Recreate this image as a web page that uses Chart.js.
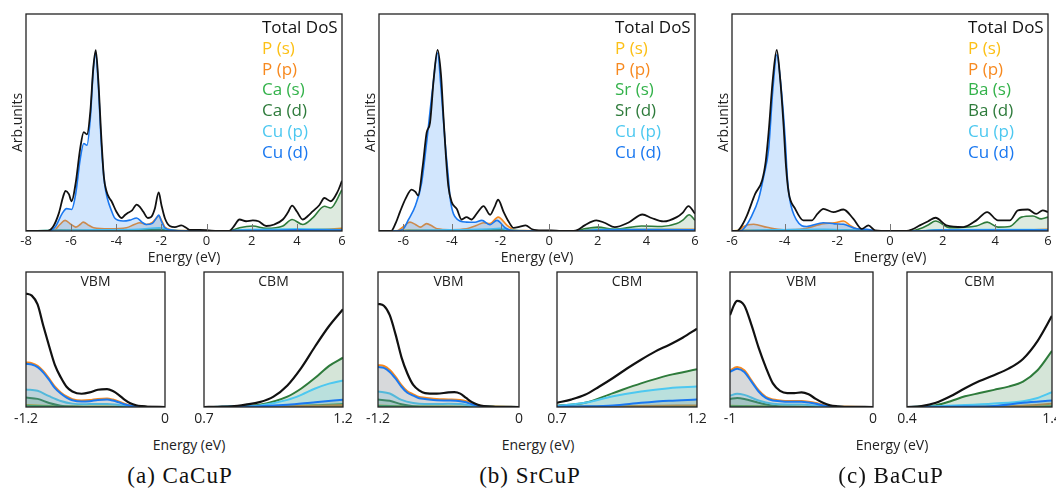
<!DOCTYPE html>
<html>
<head>
<meta charset="utf-8">
<script src="https://cdn.jsdelivr.net/npm/chart.js@4/dist/chart.umd.min.js"></script>
<style>
  html, body { margin: 0; padding: 0; background: #fff; }
  body { position: relative; width: 1056px; height: 488px; overflow: hidden; }
  canvas { position: absolute; }
  .lbl { position: absolute; transform: translate(-50%, -50%); white-space: nowrap; color: #222; }
  .axis { font: 14px "Open Sans", sans-serif; }
  .cap { font: 23px "Liberation Serif", serif; letter-spacing: 1px; color: #111; }
</style>
</head>
<body>
<canvas id="topA"></canvas>
<canvas id="topB"></canvas>
<canvas id="topC"></canvas>
<canvas id="vbmA"></canvas>
<canvas id="cbmA"></canvas>
<canvas id="vbmB"></canvas>
<canvas id="cbmB"></canvas>
<canvas id="vbmC"></canvas>
<canvas id="cbmC"></canvas>
<div class="lbl axis" style="left:189px;top:444px">Energy (eV)</div>
<div class="lbl axis" style="left:538px;top:444px">Energy (eV)</div>
<div class="lbl axis" style="left:892px;top:444px">Energy (eV)</div>
<div class="lbl cap" style="left:180px;top:476px">(a) CaCuP</div>
<div class="lbl cap" style="left:530px;top:476px">(b) SrCuP</div>
<div class="lbl cap" style="left:891px;top:476px">(c) BaCuP</div>
<script>
// legend labels, same order for every panel
const LABELS_CA = ['Total DoS', 'P (s)', 'P (p)', 'Ca (s)', 'Ca (d)', 'Cu (p)', 'Cu (d)'];
const LABELS_SR = ['Total DoS', 'P (s)', 'P (p)', 'Sr (s)', 'Sr (d)', 'Cu (p)', 'Cu (d)'];
const LABELS_BA = ['Total DoS', 'P (s)', 'P (p)', 'Ba (s)', 'Ba (d)', 'Cu (p)', 'Cu (d)'];

// axis ranges and tick labels (eV)
const RANGE_A = [-8, 6];
const RANGE_B = [-7, 6];
const RANGE_C = [-6, 6];
const TICKS_A = [-8, -6, -4, -2, 0, 2, 4, 6];
const TICKS_B = [-6, -4, -2, 0, 2, 4, 6];
const TICKS_C = [-6, -4, -2, 0, 2, 4, 6];
const VBM_RANGE_A = [-1.2, 0], CBM_RANGE_A = [0.7, 1.2];
const VBM_RANGE_B = [-1.2, 0], CBM_RANGE_B = [0.7, 1.2];
const VBM_RANGE_C = [-1, 0], CBM_RANGE_C = [0.4, 1.4];

// ---- CaCuP full DoS, [energy, DoS] (arb. units, 0-100)
const CA_TOTAL = [[-8,0],[-7.1,0],[-6.8,2],[-6.55,8],[-6.35,16],[-6.25,18.5],[-6.1,17],[-5.98,13.7],[-5.8,22],[-5.6,38],[-5.44,45.6],[-5.3,44.5],[-5.15,55],[-5.02,75],[-4.91,83.3],[-4.8,70],[-4.66,42.5],[-4.55,25],[-4.43,18.2],[-4.3,15],[-4.21,13.7],[-4.0,9],[-3.77,6],[-3.6,7.5],[-3.48,8.4],[-3.3,9.5],[-3.1,12.2],[-2.95,11],[-2.81,9],[-2.6,6],[-2.45,6.5],[-2.3,10],[-2.12,17.8],[-2.0,12],[-1.85,6],[-1.63,2.3],[-1.4,1.8],[-1.12,2.6],[-0.9,1.5],[-0.75,0.5],[-0.3,0.5],[0,0.4],[0.5,0],[1.0,0],[1.2,2],[1.46,5.3],[1.75,4.5],[2.05,4.9],[2.3,4.5],[2.64,2.3],[3.0,3],[3.38,5.3],[3.6,8.5],[3.79,11.7],[4.0,9],[4.26,5.3],[4.5,7],[4.7,9],[5.0,12],[5.22,15.2],[5.5,13.7],[5.8,18],[6.0,23.1]];
const CA_PS = [[-8,0],[-7,0],[-6.5,0.4],[-5,0.3],[-2,0.3],[-1,0],[0,0],[6,0.2]];
const CA_PP = [[-8,0],[-6.8,0],[-6.5,3],[-6.27,4.9],[-6.0,3],[-5.8,1.8],[-5.6,3],[-5.47,4.1],[-5.2,2.5],[-5.0,1.5],[-4.3,1],[-3.55,1.5],[-3.2,3],[-2.96,3.8],[-2.67,3],[-2.4,4],[-2.12,6.8],[-1.95,4],[-1.85,1.8],[-1.5,0.5],[-1,0.2],[0,0],[1,0],[1.5,0.5],[3,0.6],[5,0.8],[6,1.2]];
const CA_AS = [[-8,0],[-4,0],[-3,0.3],[-2,0.5],[-1,0],[1,0],[2,0.5],[4,0.4],[6,0.5]];
const CA_AD = [[-8,0],[-6.5,0.3],[-4,0.2],[-3,0.5],[-2.1,0.8],[-1.5,0.2],[0,0],[1,0],[1.2,0.6],[1.46,1.5],[2.05,2.3],[2.64,1.2],[3.38,2.3],[3.79,5.3],[4.26,3],[4.7,6],[5.22,11.4],[5.5,10.6],[6,19]];
const CA_CUP = [[-8,0],[-6.5,0.3],[-5,0.5],[-3,0.8],[-2.1,1.5],[-1.5,0.3],[0,0],[1,0],[1.5,0.5],[3,0.8],[4,1.0],[6,0.6]];
const CA_CUD = [[-8,0],[-7.0,0],[-6.7,2],[-6.4,8],[-6.2,10.3],[-5.98,9.9],[-5.8,17],[-5.6,33],[-5.44,40.3],[-5.3,39.5],[-5.15,52],[-5.02,74],[-4.91,82],[-4.8,68],[-4.66,39.5],[-4.52,22],[-4.4,15.2],[-4.2,9],[-4.07,6],[-3.7,4.6],[-3.4,5],[-3.1,6],[-2.85,4],[-2.67,3],[-2.4,3.5],[-2.25,5.5],[-2.12,7.3],[-2.0,4.5],[-1.85,1.5],[-1.5,0.3],[-1,0],[1,0],[1.2,0.2],[3,0.3],[4,0.5],[6,0.4]];

// ---- SrCuP full DoS
const SR_TOTAL = [[-7,0],[-6.5,0],[-6.3,4],[-6.14,8.7],[-5.9,15],[-5.66,19.1],[-5.5,18],[-5.39,16.3],[-5.2,30],[-5.04,45.3],[-4.9,50],[-4.75,70],[-4.59,83.5],[-4.45,72],[-4.35,53],[-4.25,35],[-4.15,20.9],[-4.01,13.3],[-3.8,10.2],[-3.6,5.3],[-3.4,6.4],[-3.2,5.3],[-2.95,8.5],[-2.7,11.5],[-2.43,7.5],[-2.25,11],[-2.1,14.4],[-1.87,8.7],[-1.65,4],[-1.46,1.4],[-1.2,2],[-0.97,2.6],[-0.7,0.8],[-0.3,0.3],[0.08,0.3],[0.5,0],[1.0,0],[1.18,0.5],[1.46,2.6],[1.94,4.9],[2.28,3.8],[2.7,1.8],[3.25,3.8],[3.84,7.6],[4.21,6],[4.7,4.4],[5.25,6.4],[5.5,8.5],[5.73,11.5],[6,8]];
const SR_PS = [[-7,0],[-6.3,0],[-5.8,0.5],[-4,0.3],[-2,0.3],[-1,0],[0,0],[6,0.2]];
const SR_PP = [[-7,0],[-6.3,0],[-6,2],[-5.73,4.1],[-5.5,3],[-5.3,1.8],[-5.04,3.4],[-4.8,2.2],[-4.6,1],[-4.07,0.6],[-3.4,1],[-3.0,2.5],[-2.7,3.8],[-2.43,3.4],[-2.1,6.4],[-1.73,2.6],[-1.46,0.5],[-1,0.2],[0,0],[1.2,0],[2,0.6],[4,0.8],[6,0.8]];
const SR_AS = [[-7,0],[-4,0],[-2,0.4],[-1,0],[1.2,0],[2,0.8],[4,0.5],[6,0.6]];
const SR_AD = [[-7,0],[-4,0.2],[-2.5,0.6],[-2,0.8],[-1.5,0.2],[0,0],[1.1,0],[1.46,1],[2.0,1.8],[2.7,0.8],[3.8,2.3],[4.64,2.1],[5.25,3.4],[5.5,5],[5.76,7.5],[6,5]];
const SR_CUP = [[-7,0],[-5,0.4],[-2.5,0.9],[-2,1.2],[-1.5,0.3],[0,0],[1.2,0],[2,0.7],[4,0.8],[6,0.6]];
const SR_CUD = [[-7,0],[-6.4,0],[-6.0,1],[-5.8,5],[-5.5,11.8],[-5.25,22],[-5.04,40.8],[-4.8,65],[-4.59,82],[-4.45,66],[-4.28,40.8],[-4.15,25],[-4.07,14.8],[-3.8,5.6],[-3.4,4.1],[-3.05,4],[-2.77,4.9],[-2.43,2.9],[-2.15,4.9],[-1.8,1.4],[-1.46,0],[1.2,0],[2,0.4],[4,0.5],[6,0.5]];

// ---- BaCuP full DoS
const BA_TOTAL = [[-6,0],[-5.81,0],[-5.6,3],[-5.43,7.2],[-5.12,17.1],[-4.86,23.2],[-4.72,32],[-4.61,45.3],[-4.45,70],[-4.3,83.5],[-4.17,70],[-4.04,48.4],[-3.95,30],[-3.85,17.9],[-3.6,10.2],[-3.29,4.9],[-2.97,4.9],[-2.75,8],[-2.53,10.2],[-2.15,8.7],[-1.77,9.9],[-1.39,5.6],[-1.07,1],[-0.82,2.6],[-0.57,0.3],[0,0],[0.63,0],[0.85,0.8],[1.13,2.6],[1.45,4.5],[1.73,6.1],[2.14,2.6],[2.78,1.8],[3.28,4.9],[3.69,8.7],[4.1,4.9],[4.55,4.9],[4.86,9.5],[5.24,9.9],[5.55,7.9],[5.8,9.5],[6,8.7]];
const BA_PS = [[-6,0],[-5.5,0.4],[-4,0.3],[-2,0.3],[-1,0],[0,0],[6,0.2]];
const BA_PP = [[-6,0],[-5.75,0],[-5.56,2.1],[-5.18,3.1],[-4.67,1.7],[-4.04,0.6],[-3.29,1],[-2.53,3.4],[-2.1,3.8],[-1.77,4.6],[-1.5,2.5],[-1.26,1],[-0.9,0.3],[0,0],[1,0],[3,0.4],[5,0.5],[6,0.8]];
const BA_AS = [[-6,0],[-4,0],[-2,0.4],[-1,0],[1,0],[2,0.5],[4,0.5],[6,0.5]];
const BA_AD = [[-6,0],[-4,0.3],[-2.5,0.6],[-1.5,0.3],[0,0],[0.8,0],[1.13,1],[1.45,2.8],[1.73,4.6],[2.27,1.5],[3.28,2.3],[3.69,4.1],[4.1,1.8],[4.55,2.1],[4.99,6.4],[5.43,6.9],[5.74,5.6],[6,6.4]];
const BA_CUP = [[-6,0],[-5,0.4],[-2.5,0.8],[-1.5,0.4],[0,0],[1,0],[2,0.6],[4,0.7],[6,0.6]];
const BA_CUD = [[-6,0],[-5.7,0],[-5.56,1],[-5.25,7],[-4.99,14.8],[-4.8,25],[-4.61,37.7],[-4.45,65],[-4.3,81.2],[-4.15,68],[-3.98,42.3],[-3.9,25],[-3.81,14.8],[-3.54,4.9],[-3.16,2.1],[-2.53,3.8],[-2.1,3.3],[-1.77,3.1],[-1.26,1],[-0.88,0.8],[-0.5,0],[1,0],[2,0.4],[4,0.4],[6,0.4]];

// ---- band-edge zooms (VBM / CBM)
const CA_VBM_TOTAL = [[-1.2,84],[-1.15,82.5],[-1.1,76],[-1.05,60],[-1.0,45],[-0.95,31],[-0.9,22],[-0.85,15],[-0.8,11.5],[-0.72,9.8],[-0.65,10.8],[-0.58,12.8],[-0.5,13.2],[-0.45,11.8],[-0.4,9],[-0.35,5.5],[-0.3,2.8],[-0.25,1.3],[-0.2,0.6],[-0.15,0.2],[0,0]];
const CA_VBM_PS = [[-1.2,1.5],[-1.0,0.8],[-0.8,0.3],[-0.5,0.3],[-0.3,0.1],[0,0]];
const CA_VBM_PP = [[-1.2,33],[-1.15,32.5],[-1.1,30.5],[-1.05,26.5],[-1.0,21],[-0.95,15],[-0.9,10.8],[-0.85,7.8],[-0.8,5.8],[-0.72,4.8],[-0.65,5.1],[-0.58,6],[-0.5,6.3],[-0.45,5.5],[-0.4,4.1],[-0.35,2.4],[-0.3,1.2],[-0.25,0.5],[-0.2,0.1],[0,0]];
const CA_VBM_AS = [[-1.2,1],[-1.0,0.5],[-0.8,0.2],[-0.6,0.2],[-0.4,0.1],[0,0]];
const CA_VBM_AD = [[-1.2,7],[-1.1,6],[-1.0,3],[-0.9,1],[-0.8,0.3],[-0.7,0],[0,0]];
const CA_VBM_CUP = [[-1.2,13],[-1.1,12],[-1.0,8],[-0.9,4.5],[-0.8,2.5],[-0.7,2],[-0.6,2.3],[-0.5,2.3],[-0.4,1.5],[-0.3,0.5],[-0.2,0],[0,0]];
const CA_VBM_CUD = [[-1.2,32],[-1.15,31.5],[-1.1,29.5],[-1.05,25.5],[-1.0,20],[-0.95,14],[-0.9,10],[-0.85,7],[-0.8,5],[-0.72,4],[-0.65,4.3],[-0.58,5.2],[-0.5,5.5],[-0.45,4.8],[-0.4,3.5],[-0.35,2],[-0.3,1],[-0.25,0.4],[-0.2,0.1],[0,0]];
const CA_CBM_TOTAL = [[0.7,0],[0.75,0.2],[0.8,0.5],[0.85,1.8],[0.9,3.6],[0.95,7.7],[1.0,16],[1.05,29],[1.1,45],[1.15,60],[1.2,72.4]];
const CA_CBM_PS = [[0.7,0],[1.0,0.3],[1.2,0.8]];
const CA_CBM_PP = [[0.7,0],[0.9,0.2],[1.0,0.5],[1.1,0.9],[1.2,1.4]];
const CA_CBM_AS = [[0.7,0],[0.9,0.3],[1.0,0.8],[1.1,1.3],[1.2,2.2]];
const CA_CBM_AD = [[0.7,0],[0.8,0.3],[0.9,1.7],[1.0,7.7],[1.05,13.7],[1.1,21.6],[1.15,30.5],[1.2,36.5]];
const CA_CBM_CUP = [[0.7,0],[0.8,0.3],[0.9,1.2],[1.0,5.3],[1.05,9],[1.1,13.7],[1.15,17.3],[1.2,19.7]];
const CA_CBM_CUD = [[0.7,0],[0.8,0.2],[0.9,0.6],[1.0,1.7],[1.1,3.6],[1.2,5.3]];

const SR_VBM_TOTAL = [[-1.2,76.4],[-1.15,75],[-1.1,68],[-1.05,53.6],[-1.0,36.8],[-0.95,24.8],[-0.9,16.3],[-0.85,12.3],[-0.8,10.3],[-0.7,9.9],[-0.6,10.8],[-0.55,11],[-0.5,9.9],[-0.45,6.7],[-0.4,3.6],[-0.35,1.7],[-0.3,0.7],[-0.2,0.2],[0,0]];
const SR_VBM_PS = [[-1.2,1.2],[-1.0,0.6],[-0.6,0.3],[-0.3,0.1],[0,0]];
const SR_VBM_PP = [[-1.2,31],[-1.15,30.4],[-1.1,27.4],[-1.05,22.3],[-1.0,16.2],[-0.95,11.6],[-0.9,9.4],[-0.85,7.4],[-0.8,6.9],[-0.7,5.9],[-0.6,5.6],[-0.5,5.1],[-0.45,4.2],[-0.4,2.6],[-0.35,1.4],[-0.3,0.6],[-0.2,0.1],[0,0]];
const SR_VBM_AS = [[-1.2,0.8],[-1.0,0.4],[-0.6,0.2],[-0.3,0.1],[0,0]];
const SR_VBM_AD = [[-1.2,5.5],[-1.1,4.6],[-1.0,2],[-0.9,0.6],[-0.8,0.1],[0,0]];
const SR_VBM_CUP = [[-1.2,11.5],[-1.1,10],[-1.0,5.3],[-0.9,3],[-0.8,2.2],[-0.7,2.2],[-0.6,2.4],[-0.5,2.2],[-0.4,1],[-0.3,0.3],[-0.2,0],[0,0]];
const SR_VBM_CUD = [[-1.2,29.6],[-1.15,29],[-1.1,26],[-1.05,21],[-1.0,15],[-0.95,10.5],[-0.9,8.4],[-0.85,6.5],[-0.8,6],[-0.7,5],[-0.6,4.8],[-0.5,4.3],[-0.45,3.5],[-0.4,2],[-0.35,1],[-0.3,0.4],[-0.2,0],[0,0]];
const SR_CBM_TOTAL = [[0.7,3.1],[0.75,5.5],[0.8,9],[0.85,15],[0.9,21.5],[0.95,28.5],[1.0,35],[1.05,41],[1.1,46],[1.15,51.5],[1.2,58]];
const SR_CBM_PS = [[0.7,0],[1.2,0.3]];
const SR_CBM_PP = [[0.7,0.1],[0.9,0.4],[1.0,0.7],[1.2,1.2]];
const SR_CBM_AS = [[0.7,0.1],[1.0,0.5],[1.2,0.8]];
const SR_CBM_AD = [[0.7,1],[0.8,3.1],[0.9,10.3],[1.0,17.5],[1.1,23.6],[1.2,27.9]];
const SR_CBM_CUP = [[0.7,0.7],[0.8,3.1],[0.9,7.9],[1.0,11.5],[1.1,13.9],[1.2,15.1]];
const SR_CBM_CUD = [[0.7,0.2],[0.8,0.5],[0.9,1.2],[1.0,3.1],[1.1,4.6],[1.2,5.5]];

const BA_VBM_TOTAL = [[-1.0,68],[-0.97,76],[-0.95,78.6],[-0.9,75.2],[-0.85,60.8],[-0.8,44],[-0.75,29.6],[-0.7,17.5],[-0.65,12],[-0.6,10.3],[-0.55,10.3],[-0.5,10.8],[-0.45,9.4],[-0.4,6],[-0.35,3.1],[-0.3,1.2],[-0.25,0.5],[-0.2,0.2],[0,0]];
const BA_VBM_PS = [[-1.0,1],[-0.8,0.5],[-0.5,0.3],[-0.3,0.1],[0,0]];
const BA_VBM_PP = [[-1.0,27],[-0.95,29.6],[-0.9,27.2],[-0.85,19.8],[-0.8,12.4],[-0.75,7.5],[-0.7,5.5],[-0.65,4.9],[-0.6,4.4],[-0.5,4.4],[-0.45,3.9],[-0.4,2.9],[-0.35,1.5],[-0.3,0.6],[-0.2,0.1],[0,0]];
const BA_VBM_AS = [[-1.0,0.6],[-0.8,0.3],[-0.5,0.2],[0,0]];
const BA_VBM_AD = [[-1.0,6],[-0.95,6.7],[-0.9,6],[-0.8,3.1],[-0.7,1],[-0.6,0.3],[-0.5,0],[0,0]];
const BA_VBM_CUP = [[-1.0,8.4],[-0.95,9.9],[-0.9,9],[-0.8,4.8],[-0.7,2.4],[-0.6,1.8],[-0.5,1.8],[-0.4,1],[-0.3,0.3],[-0.2,0],[0,0]];
const BA_VBM_CUD = [[-1.0,26],[-0.95,28.4],[-0.9,26],[-0.85,18.8],[-0.8,11.5],[-0.75,6.7],[-0.7,4.8],[-0.65,4.3],[-0.6,3.8],[-0.5,3.8],[-0.45,3.3],[-0.4,2.4],[-0.35,1.2],[-0.3,0.5],[-0.2,0],[0,0]];
const BA_CBM_TOTAL = [[0.4,0],[0.5,0.7],[0.6,3.1],[0.7,7.9],[0.8,13.9],[0.9,19.2],[1.0,23.6],[1.1,28.4],[1.2,35.6],[1.3,48.8],[1.4,67.5]];
const BA_CBM_PS = [[0.4,0],[1.4,0.3]];
const BA_CBM_PP = [[0.4,0],[1.0,0.3],[1.2,1],[1.4,2.4]];
const BA_CBM_AS = [[0.4,0],[1.0,0.2],[1.4,0.6]];
const BA_CBM_AD = [[0.4,0],[0.5,0.3],[0.6,1.4],[0.7,4.3],[0.8,7.9],[0.9,10.3],[1.0,12.7],[1.1,15.1],[1.2,18.8],[1.3,27.2],[1.4,41.6]];
const BA_CBM_CUP = [[0.4,0],[0.6,0.5],[0.8,1.4],[1.0,2.6],[1.2,4.3],[1.3,6.7],[1.4,11]];
const BA_CBM_CUD = [[0.4,0],[0.8,0.3],[1.0,0.8],[1.2,3.1],[1.4,4.8]];

// ---- styling (per series, legend order)
const COLORS = ['#111111', '#fcc016', '#f7891f', '#33b24a', '#2e7b3b', '#4dc8f0', '#1a78f0'];
const DRAW_ORDER = [0, 6, 4, 5, 3, 2, 1]; // lower = drawn on top
const FILL_TOP = [false, 'rgba(128,128,128,0.08)', 'rgba(120,120,120,0.22)', 'rgba(51,178,74,0.08)', 'rgba(46,123,59,0.16)', 'rgba(77,200,240,0.15)', 'rgba(50,140,245,0.22)'];
const FILL_BOT = [false, 'rgba(128,128,128,0.06)', 'rgba(120,120,120,0.1)', 'rgba(51,178,74,0.08)', 'rgba(46,123,59,0.2)', 'rgba(77,200,240,0.2)', 'rgba(110,120,130,0.2)'];
const FONT = '"Open Sans", sans-serif';
const Y_TITLE_W = 14 * 1.2; // width taken by the rotated y title
const X_AXIS_H_TOP = 13 * 1.2 + 2 + 14; // tick labels + padding + title
const X_AXIS_H_BOT = 14 * 1.2 + 4;

Chart.defaults.font.family = FONT;
Chart.defaults.color = '#222';

// box outline, inner tick marks, inner title and legend text
const framePlugin = {
	id: 'frame',
	afterDatasetsDraw(chart, args, opts){
		const ctx = chart.ctx;
		const a = chart.chartArea;
		ctx.save();
		if(opts.marks){
			const xs = chart.scales.x;
			ctx.strokeStyle = '#777';
			ctx.lineWidth = 1;
			xs.ticks.forEach(t => {
				const px = Math.round(xs.getPixelForValue(t.value)) + 0.5;
				if(px - a.left < 3 || a.right - px < 3) return;
				ctx.beginPath();
				ctx.moveTo(px, a.bottom);
				ctx.lineTo(px, a.bottom - 7);
				ctx.stroke();
			});
		}
		ctx.strokeStyle = '#222';
		ctx.lineWidth = 1.3;
		ctx.strokeRect(a.left, a.top, a.width, a.height);
		if(opts.title){
			ctx.font = '14px ' + FONT;
			ctx.fillStyle = '#222';
			ctx.textAlign = 'center';
			ctx.fillText(opts.title, (a.left + a.right) / 2, a.top + 14);
		}
		if(opts.legend){
			ctx.font = '17px ' + FONT;
			ctx.textAlign = 'left';
			chart.data.datasets.forEach((d, i) => {
				ctx.fillStyle = d.borderColor;
				ctx.fillText(d.label, a.right - 80, a.top + 19 + i * 20.8);
			});
		}
		ctx.restore();
	}
};
Chart.register(framePlugin);

function place(id, box, m){
	const c = document.getElementById(id);
	c.style.left = (box.l - m.l) + 'px';
	c.style.top = (box.t - m.t) + 'px';
	c.width = box.r - box.l + m.l + m.r;
	c.height = box.b - box.t + m.t + m.b;
	return c;
}

function makeDatasets(labels, series, fills, width){
	return series.map((pairs, i) => ({
		label: labels[i],
		data: pairs.map(p => ({x: p[0], y: p[1]})),
		borderColor: COLORS[i],
		backgroundColor: fills[i] || 'transparent',
		fill: fills[i] ? 'origin' : false,
		borderWidth: i === 0 ? width + 0.2 : width,
		pointRadius: 0,
		cubicInterpolationMode: 'monotone',
		order: DRAW_ORDER[i]
	}));
}

function topChart(id, box, m, labels, series, range, ticks){
	const c = place(id, box, m);
	new Chart(c, {
		type: 'line',
		data: {datasets: makeDatasets(labels, series, FILL_TOP, 1.6)},
		options: {
			responsive: false,
			animation: false,
			devicePixelRatio: 1,
			events: [],
			layout: {padding: {left: m.l - Y_TITLE_W, right: m.r, top: m.t, bottom: m.b - X_AXIS_H_TOP}},
			plugins: {legend: {display: false}, tooltip: {enabled: false}, frame: {marks: true, legend: true}},
			scales: {
				x: {
					type: 'linear', min: range[0], max: range[1],
					afterBuildTicks: s => { s.ticks = ticks.map(v => ({value: v})); },
					ticks: {font: {size: 13}, padding: 2, maxRotation: 0, autoSkip: false},
					grid: {display: false, drawTicks: false, tickLength: 0},
					border: {display: false},
					title: {display: true, text: 'Energy (eV)', font: {size: 14, lineHeight: 1}, padding: 0}
				},
				y: {
					min: 0, max: 100,
					ticks: {display: false},
					grid: {display: false, drawTicks: false, tickLength: 0},
					border: {display: false},
					title: {display: true, text: 'Arb.units', font: {size: 14}, padding: 0}
				}
			}
		}
	});
}

function edgeChart(id, box, m, labels, series, range, title){
	const c = place(id, box, m);
	new Chart(c, {
		type: 'line',
		data: {datasets: makeDatasets(labels, series, FILL_BOT, 2)},
		options: {
			responsive: false,
			animation: false,
			devicePixelRatio: 1,
			events: [],
			layout: {padding: {left: m.l, right: m.r, top: m.t, bottom: m.b - X_AXIS_H_BOT}},
			plugins: {legend: {display: false}, tooltip: {enabled: false}, frame: {title: title}},
			scales: {
				x: {
					type: 'linear', min: range[0], max: range[1],
					afterBuildTicks: s => { s.ticks = range.map(v => ({value: v})); },
					ticks: {font: {size: 14}, padding: 4, maxRotation: 0, autoSkip: false},
					grid: {display: false, drawTicks: false, tickLength: 0},
					border: {display: false}
				},
				y: {display: false, min: 0, max: 100}
			}
		}
	});
}

const TOP_M_A = {l: 26, r: 8, t: 14, b: 34};
const TOP_M_B = {l: 27, r: 7, t: 14, b: 34};
const TOP_M_C = {l: 28, r: 8, t: 14, b: 34};
const EDGE_M = {l: 17, r: 17, t: 6, b: 23};

topChart('topA', {l: 26, r: 342, t: 14, b: 233}, TOP_M_A, LABELS_CA,
	[CA_TOTAL, CA_PS, CA_PP, CA_AS, CA_AD, CA_CUP, CA_CUD], RANGE_A, TICKS_A);
topChart('topB', {l: 379, r: 695, t: 14, b: 233}, TOP_M_B, LABELS_SR,
	[SR_TOTAL, SR_PS, SR_PP, SR_AS, SR_AD, SR_CUP, SR_CUD], RANGE_B, TICKS_B);
topChart('topC', {l: 732, r: 1048, t: 14, b: 233}, TOP_M_C, LABELS_BA,
	[BA_TOTAL, BA_PS, BA_PP, BA_AS, BA_AD, BA_CUP, BA_CUD], RANGE_C, TICKS_C);

edgeChart('vbmA', {l: 26, r: 165, t: 272, b: 411}, EDGE_M, LABELS_CA,
	[CA_VBM_TOTAL, CA_VBM_PS, CA_VBM_PP, CA_VBM_AS, CA_VBM_AD, CA_VBM_CUP, CA_VBM_CUD], VBM_RANGE_A, 'VBM');
edgeChart('cbmA', {l: 204, r: 343, t: 272, b: 411}, EDGE_M, LABELS_CA,
	[CA_CBM_TOTAL, CA_CBM_PS, CA_CBM_PP, CA_CBM_AS, CA_CBM_AD, CA_CBM_CUP, CA_CBM_CUD], CBM_RANGE_A, 'CBM');
edgeChart('vbmB', {l: 378, r: 519, t: 272, b: 411}, EDGE_M, LABELS_SR,
	[SR_VBM_TOTAL, SR_VBM_PS, SR_VBM_PP, SR_VBM_AS, SR_VBM_AD, SR_VBM_CUP, SR_VBM_CUD], VBM_RANGE_B, 'VBM');
edgeChart('cbmB', {l: 557, r: 697, t: 272, b: 411}, EDGE_M, LABELS_SR,
	[SR_CBM_TOTAL, SR_CBM_PS, SR_CBM_PP, SR_CBM_AS, SR_CBM_AD, SR_CBM_CUP, SR_CBM_CUD], CBM_RANGE_B, 'CBM');
edgeChart('vbmC', {l: 730, r: 873, t: 272, b: 411}, EDGE_M, LABELS_BA,
	[BA_VBM_TOTAL, BA_VBM_PS, BA_VBM_PP, BA_VBM_AS, BA_VBM_AD, BA_VBM_CUP, BA_VBM_CUD], VBM_RANGE_C, 'VBM');
edgeChart('cbmC', {l: 907, r: 1052, t: 272, b: 411}, EDGE_M, LABELS_BA,
	[BA_CBM_TOTAL, BA_CBM_PS, BA_CBM_PP, BA_CBM_AS, BA_CBM_AD, BA_CBM_CUP, BA_CBM_CUD], CBM_RANGE_C, 'CBM');
</script>
</body>
</html>
